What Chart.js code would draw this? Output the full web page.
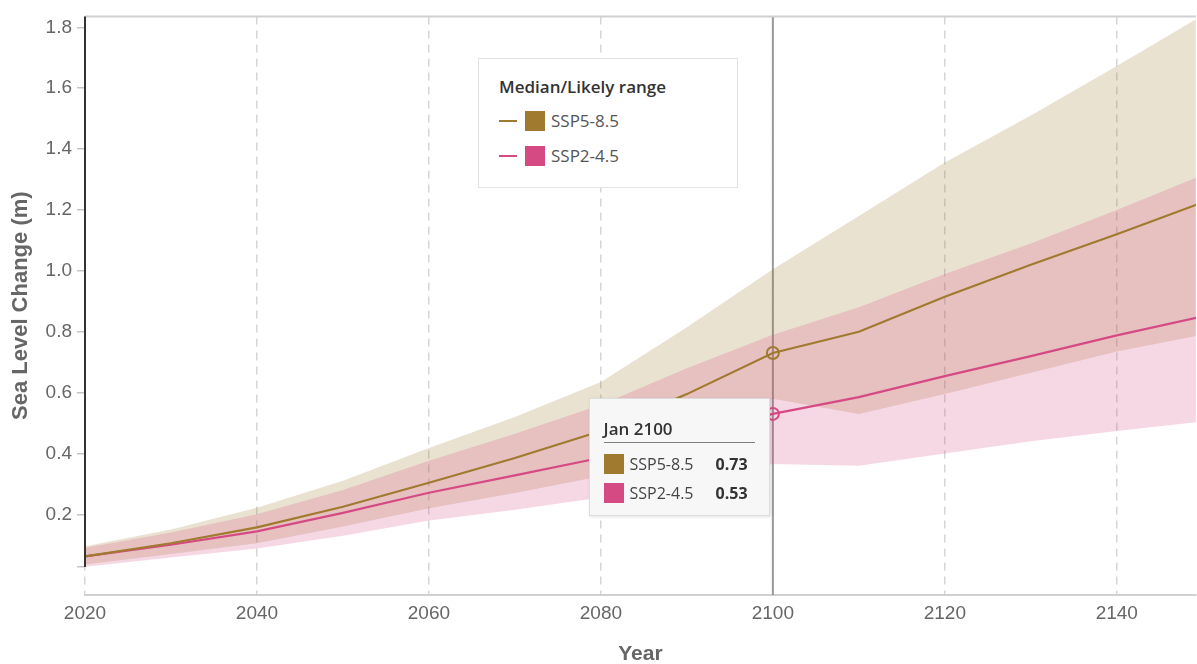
<!DOCTYPE html>
<html>
<head>
<meta charset="utf-8">
<script src="https://cdn.jsdelivr.net/npm/chart.js@4.4.0/dist/chart.umd.min.js"></script>
<style>
  body { margin: 0; background: #fff; }
  #wrap { position: relative; width: 1197px; height: 664px; overflow: hidden; }
  #legend {
    position: absolute; left: 478px; top: 58px; width: 260px; height: 130px;
    box-sizing: border-box; border: 1px solid #e2e2e2; background: #fff;
    font-family: "Open Sans", sans-serif;
  }
  #legend .title { position: absolute; left: 20px; top: 16px; font-size: 17px; font-weight: 600; color: #333; }
  #legend .row { position: absolute; left: 20px; height: 24px; width: 220px; }
  #legend .dash { position: absolute; left: 0; top: 11px; width: 18px; height: 2px; }
  #legend .sq { position: absolute; left: 26px; top: 2px; width: 20px; height: 20px; }
  #legend .lbl { position: absolute; left: 52px; top: 0; font-size: 17px; line-height: 24px; color: #555; }
  #tip {
    position: absolute; display: none; width: 181px; height: 118px; box-sizing: border-box;
    background: #f7f7f7; border: 1px solid #dcdcdc; box-shadow: 1px 1px 3px rgba(0,0,0,0.12);
    font-family: "Open Sans", sans-serif;
  }
  #tip .head { position: absolute; left: 14px; top: 18px; font-size: 17px; font-weight: 600; color: #333; }
  #tip .rule { position: absolute; left: 14px; top: 43px; width: 151px; height: 1px; background: #808080; }
  #tip .row { position: absolute; left: 14px; width: 150px; height: 22px; }
  #tip .sq { position: absolute; left: 0; top: 1px; width: 20px; height: 20px; }
  #tip .lbl { position: absolute; left: 26px; top: 0; font-size: 16px; line-height: 22px; color: #444; }
  #tip .val { position: absolute; right: 6px; top: 0; font-size: 16px; line-height: 22px; font-weight: 700; color: #333; }
</style>
</head>
<body>
<div id="wrap">
  <canvas id="chart" width="1197" height="664"></canvas>
  <div id="legend"></div>
  <div id="tip"></div>
</div>
<script>
// decades
const years = [2020, 2030, 2040, 2050, 2060, 2070, 2080, 2090, 2100, 2110, 2120, 2130, 2140, 2150];

// SSP5-8.5 median + likely range (m)
const ssp585Median = [0.062, 0.105, 0.157, 0.225, 0.304, 0.385, 0.474, 0.595, 0.73, 0.80, 0.915, 1.02, 1.12, 1.225];
const ssp585Low    = [0.035, 0.070, 0.105, 0.160, 0.220, 0.270, 0.325, 0.440, 0.58, 0.53, 0.595, 0.665, 0.735, 0.79];
const ssp585High   = [0.095, 0.150, 0.222, 0.310, 0.418, 0.520, 0.635, 0.815, 1.005, 1.18, 1.356, 1.51, 1.673, 1.84];

// SSP2-4.5 median + likely range (m)
const ssp245Median = [0.062, 0.100, 0.144, 0.205, 0.271, 0.328, 0.386, 0.455, 0.53, 0.585, 0.654, 0.72, 0.788, 0.85];
const ssp245Low    = [0.028, 0.058, 0.088, 0.130, 0.180, 0.215, 0.255, 0.310, 0.365, 0.36, 0.40, 0.44, 0.474, 0.505];
const ssp245High   = [0.090, 0.140, 0.200, 0.280, 0.376, 0.465, 0.560, 0.680, 0.79, 0.88, 0.99, 1.09, 1.20, 1.315];

const xTicks = [2020, 2040, 2060, 2080, 2100, 2120, 2140];
const yTicks = [0.2, 0.4, 0.6, 0.8, 1.0, 1.2, 1.4, 1.6, 1.8];
const yAxisStart = 0.027;   // bottom end of the y axis line (unlabelled tick)
const xMin = 2020, xMax = 2149.2;
const yMin = -0.065, yMax = 1.836;
const hoverYear = 2100;

const scenarios = [
  { name: 'SSP5-8.5', color: '#a07a2e', band: 'rgba(160,122,46,0.22)' },
  { name: 'SSP2-4.5', color: '#d64a84', band: 'rgba(214,74,132,0.22)' }
];

function toPoints(values) {
  return years.map((x, i) => ({ x: x, y: values[i] }));
}

function bandEdge(values, fill, sc, order) {
  return {
    label: sc.name + ' range',
    data: toPoints(values),
    borderWidth: 0,
    pointRadius: 0,
    pointHoverRadius: 0,
    backgroundColor: sc.band,
    fill: fill,
    order: order
  };
}

function medianLine(values, sc) {
  return {
    label: sc.name,
    data: toPoints(values),
    borderColor: sc.color,
    backgroundColor: sc.color,
    borderWidth: 2.2,
    pointRadius: 0,
    pointHoverRadius: 6,
    pointHoverBorderWidth: 2,
    pointHoverBorderColor: sc.color,
    pointHoverBackgroundColor: 'rgba(255,255,255,0)',
    fill: false,
    order: 0
  };
}

// legend box
const legendEl = document.getElementById('legend');
legendEl.innerHTML = '<div class="title">Median/Likely range</div>' +
  scenarios.map((sc, i) => `
    <div class="row" style="top:${50 + i * 35}px">
      <div class="dash" style="background:${sc.color}"></div>
      <div class="sq" style="background:${sc.color}"></div>
      <div class="lbl">${sc.name}</div>
    </div>`).join('');

function externalTooltip(context) {
  const { chart, tooltip } = context;
  const el = document.getElementById('tip');
  if (tooltip.opacity === 0 || !tooltip.dataPoints || !tooltip.dataPoints.length) {
    el.style.display = 'none';
    return;
  }
  const pts = tooltip.dataPoints;
  el.innerHTML = `<div class="head">Jan ${pts[0].parsed.x}</div><div class="rule"></div>` +
    pts.map((p, i) => `
      <div class="row" style="top:${54 + i * 29}px">
        <div class="sq" style="background:${scenarios[i].color}"></div>
        <div class="lbl">${p.dataset.label}</div>
        <div class="val">${p.parsed.y.toFixed(2)}</div>
      </div>`).join('');
  const x = chart.scales.x.getPixelForValue(pts[0].parsed.x);
  const lowY = Math.max(...pts.map(p => p.element.y));
  el.style.display = 'block';
  el.style.left = (x - 185) + 'px';
  el.style.top = (lowY - 16) + 'px';
}

const decor = {
  id: 'decor',
  beforeDatasetsDraw(chart) {
    const { ctx, chartArea } = chart;
    const x = chart.scales.x.getPixelForValue(hoverYear);
    ctx.save();
    ctx.strokeStyle = '#9a9a9a';
    ctx.lineWidth = 2;
    ctx.beginPath();
    ctx.moveTo(x, chartArea.top);
    ctx.lineTo(x, chartArea.bottom);
    ctx.stroke();
    ctx.restore();
  },
  afterDraw(chart) {
    const { ctx, chartArea } = chart;
    const y = chart.scales.y;
    ctx.save();
    ctx.strokeStyle = '#d0d0d0';
    ctx.lineWidth = 2;
    ctx.beginPath();
    ctx.moveTo(chartArea.left, chartArea.top);
    ctx.lineTo(chartArea.right, chartArea.top);
    ctx.stroke();
    ctx.strokeStyle = '#333';
    ctx.lineWidth = 2;
    ctx.beginPath();
    ctx.moveTo(chartArea.left, y.getPixelForValue(yMax));
    ctx.lineTo(chartArea.left, y.getPixelForValue(yAxisStart));
    ctx.stroke();
    ctx.restore();
  }
};

const axisFont = { family: '"Liberation Sans", Arial, sans-serif', size: 19 };

const chart = new Chart(document.getElementById('chart'), {
  type: 'line',
  data: {
    datasets: [
      bandEdge(ssp585Low, false, scenarios[0], 2),
      bandEdge(ssp585High, 0, scenarios[0], 2),
      bandEdge(ssp245Low, false, scenarios[1], 1),
      bandEdge(ssp245High, 2, scenarios[1], 1),
      medianLine(ssp585Median, scenarios[0]),
      medianLine(ssp245Median, scenarios[1])
    ]
  },
  options: {
    responsive: false,
    animation: false,
    events: [],
    layout: { padding: { top: 13, right: 0, bottom: 0, left: 0 } },
    plugins: {
      legend: { display: false },
      tooltip: { enabled: false, external: externalTooltip, mode: 'index', intersect: false }
    },
    scales: {
      x: {
        type: 'linear',
        min: xMin,
        max: xMax,
        afterBuildTicks: s => { s.ticks = xTicks.map(v => ({ value: v })); },
        afterFit: s => { s.height = 69; },
        grid: { color: '#d6d6d6', lineWidth: 1.5, drawTicks: false },
        border: { display: true, color: '#d0d0d0', width: 2, dash: [8, 6] },
        ticks: { color: '#666', font: axisFont, padding: 7, callback: v => String(v) },
        title: {
          display: true, text: 'Year', color: '#666',
          font: { family: '"Liberation Sans", Arial, sans-serif', size: 21, weight: 'bold', lineHeight: 0.9 },
          padding: { top: 0, bottom: 0 }
        }
      },
      y: {
        min: yMin,
        max: yMax,
        afterBuildTicks: s => { s.ticks = [yAxisStart].concat(yTicks).map(v => ({ value: v })); },
        afterFit: s => { s.width = 85; },
        grid: { drawOnChartArea: false, drawTicks: true, tickLength: 8, color: '#c4c4c4', lineWidth: 1.5 },
        border: { display: false },
        ticks: { color: '#666', font: axisFont, padding: 5, callback: v => (v === yAxisStart ? '' : v.toFixed(1)) },
        title: {
          display: true, text: 'Sea Level Change (m)', color: '#666',
          font: { family: '"Liberation Sans", Arial, sans-serif', size: 22, weight: 'bold' },
          padding: { top: 8, bottom: 0 }
        }
      }
    }
  },
  plugins: [decor]
});

const hoverIndex = years.indexOf(hoverYear);
const active = [{ datasetIndex: 4, index: hoverIndex }, { datasetIndex: 5, index: hoverIndex }];
chart.setActiveElements(active);
chart.tooltip.setActiveElements(active, { x: chart.scales.x.getPixelForValue(hoverYear), y: 400 });
chart.update();
</script>
</body>
</html>
